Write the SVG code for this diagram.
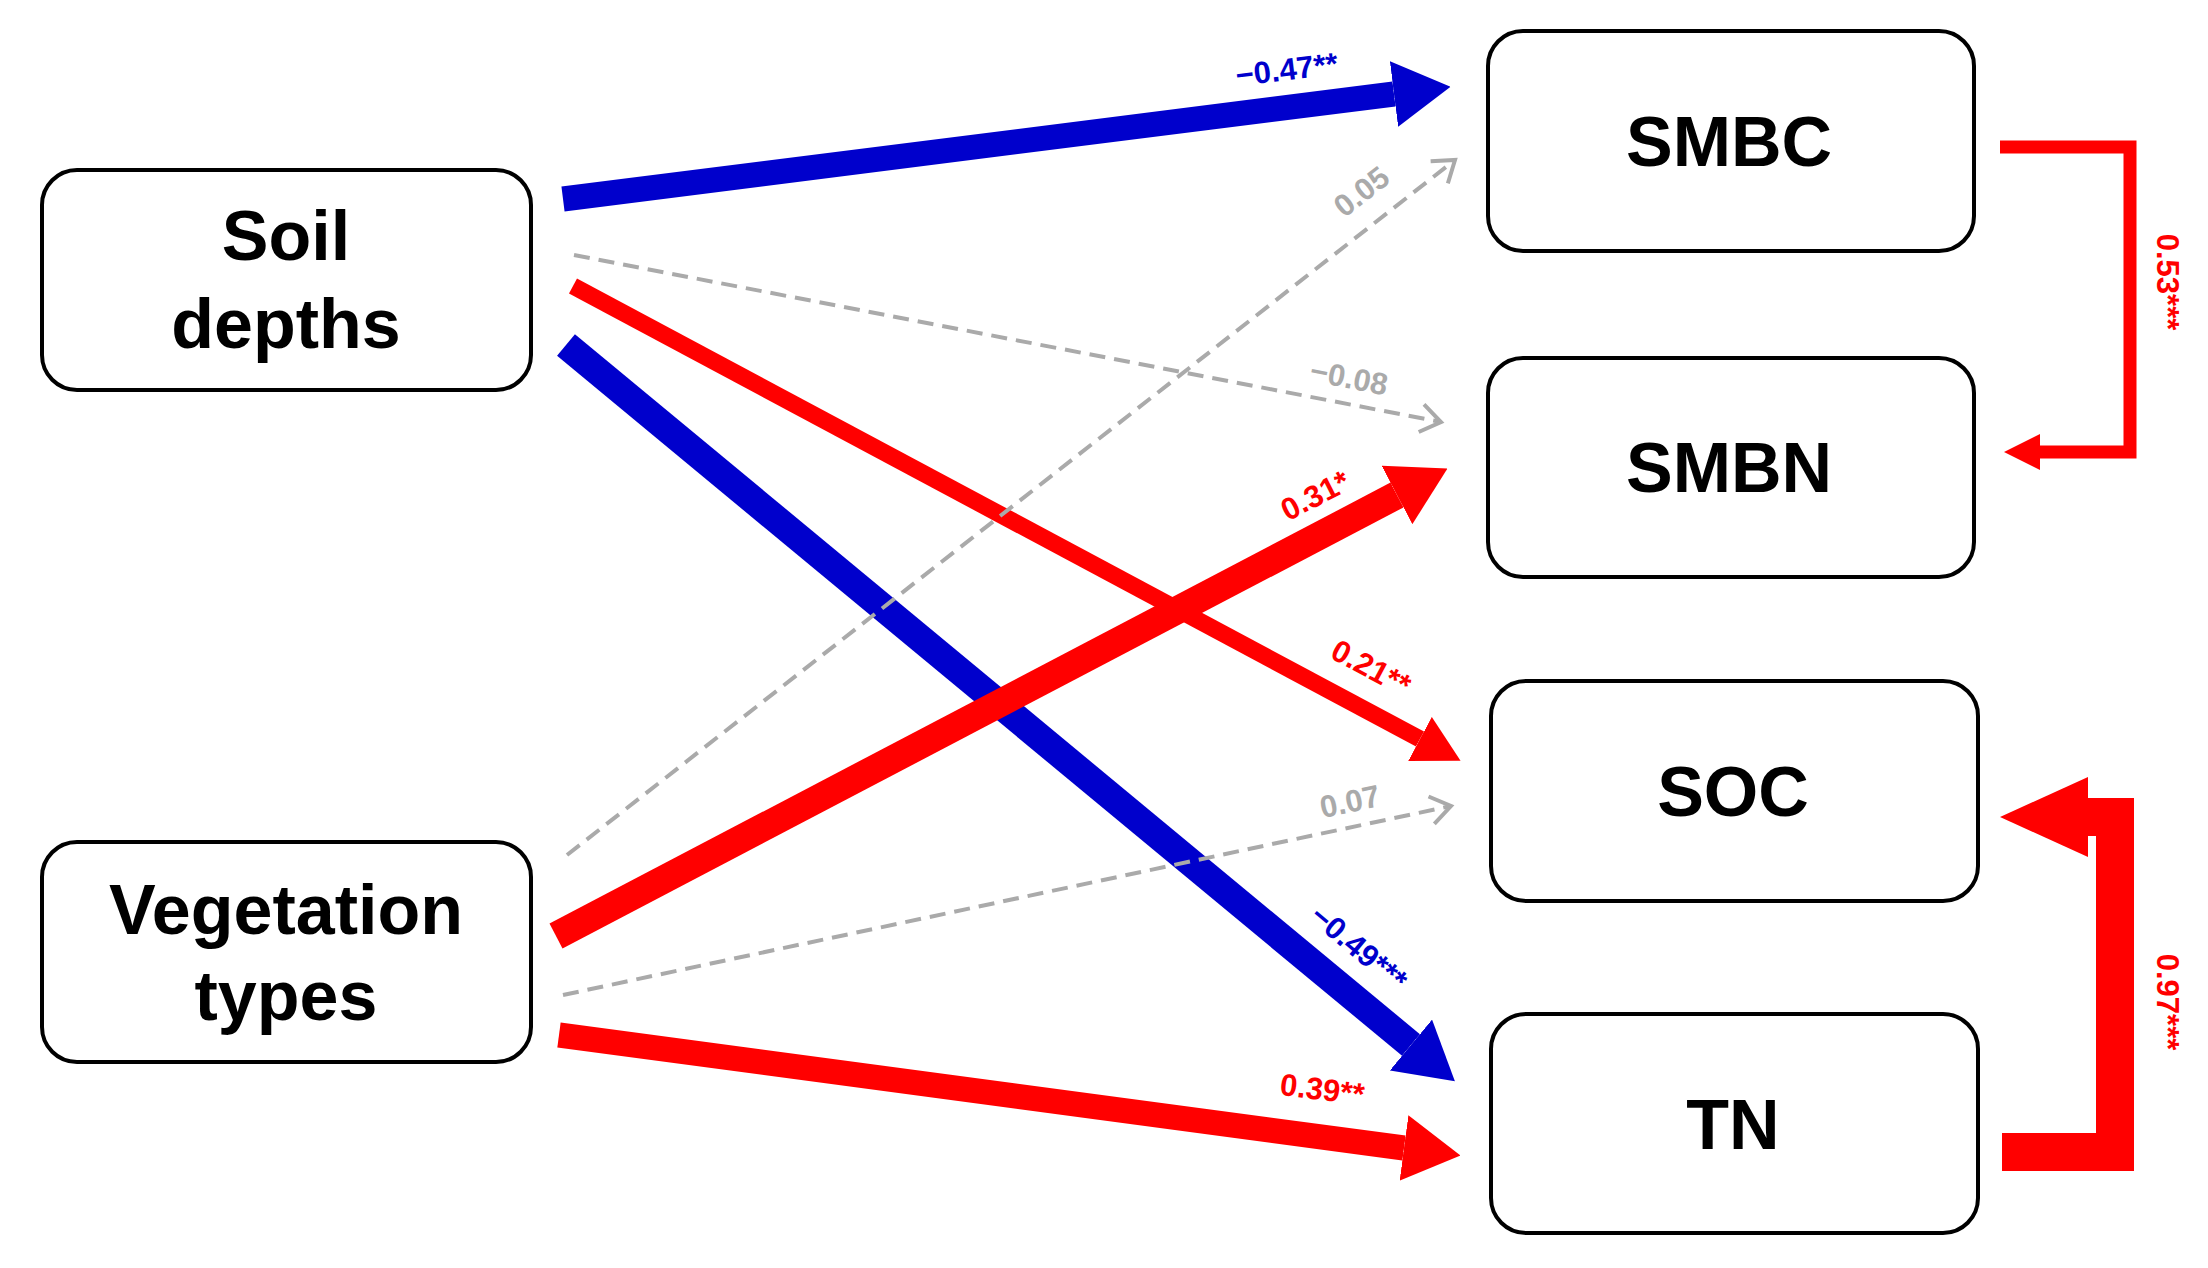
<svg xmlns="http://www.w3.org/2000/svg" width="2208" height="1268" viewBox="0 0 2208 1268">
<style>
.box{fill:#fff;stroke:#000;stroke-width:4}
.nt{font-family:"Liberation Sans",Arial,sans-serif;font-weight:bold;font-size:70px;text-anchor:middle}
.lb{font-family:"Liberation Sans",Arial,sans-serif;font-weight:bold;font-size:31px;text-anchor:middle}
.dash{stroke:#aaaaaa;stroke-width:4;stroke-dasharray:16 9;fill:none}
</style>
<defs>
<marker id="hb" markerUnits="userSpaceOnUse" markerWidth="57" markerHeight="66" refX="0" refY="33" orient="auto" viewBox="0 0 57 66"><path d="M0,0 L57,33 L0,66 z" fill="#0000cc"/></marker>
<marker id="hr" markerUnits="userSpaceOnUse" markerWidth="57" markerHeight="66" refX="0" refY="33" orient="auto" viewBox="0 0 57 66"><path d="M0,0 L57,33 L0,66 z" fill="#ff0000"/></marker>
<marker id="hrs" markerUnits="userSpaceOnUse" markerWidth="46" markerHeight="50" refX="0" refY="25" orient="auto" viewBox="0 0 46 50"><path d="M0,0 L46,25 L0,50 z" fill="#ff0000"/></marker>
<marker id="hg" markerUnits="userSpaceOnUse" markerWidth="30" markerHeight="34" refX="26" refY="17" orient="auto" viewBox="0 0 30 34"><path d="M6,3 L26,17 L6,31" fill="none" stroke="#aaaaaa" stroke-width="4"/></marker>
</defs>
<g id="connectors">
<line x1="563" y1="199" x2="1394" y2="94" stroke="#0000cc" stroke-width="25" marker-end="url(#hb)"/>
<line x1="574" y1="255" x2="1441" y2="422" class="dash" marker-end="url(#hg)"/>
<line x1="573" y1="286" x2="1420" y2="739" stroke="#ff0000" stroke-width="17" marker-end="url(#hrs)"/>
<line x1="566" y1="345" x2="1411" y2="1045" stroke="#0000cc" stroke-width="28" marker-end="url(#hb)"/>
<line x1="567" y1="855" x2="1455" y2="160" class="dash" marker-end="url(#hg)"/>
<line x1="556" y1="936" x2="1397" y2="495" stroke="#ff0000" stroke-width="28" marker-end="url(#hr)"/>
<line x1="563" y1="995" x2="1451" y2="806" class="dash" marker-end="url(#hg)"/>
<line x1="559" y1="1035" x2="1404" y2="1148" stroke="#ff0000" stroke-width="25" marker-end="url(#hr)"/>
<polyline points="2000,147 2130,147 2130,452 2040,452" fill="none" stroke="#ff0000" stroke-width="13"/>
<polygon points="2004,452 2040,434 2040,470" fill="#ff0000"/>
<polyline points="2002,1152 2115,1152 2115,817 2085,817" fill="none" stroke="#ff0000" stroke-width="38"/>
<polygon points="2000,817 2088,777 2088,857" fill="#ff0000"/>
<text class="lb" fill="#0000cc" transform="translate(1288,80) rotate(-7)">−0.47**</text>
<text class="lb" fill="#aaaaaa" transform="translate(1368,200) rotate(-38)">0.05</text>
<text class="lb" fill="#aaaaaa" transform="translate(1347,388) rotate(11)">−0.08</text>
<text class="lb" fill="#ff0000" transform="translate(1320,505) rotate(-27)">0.31*</text>
<text class="lb" fill="#ff0000" transform="translate(1366,677) rotate(28)">0.21**</text>
<text class="lb" fill="#aaaaaa" transform="translate(1352,812) rotate(-12)">0.07</text>
<text class="lb" fill="#0000cc" transform="translate(1352,956) rotate(40)">−0.49***</text>
<text class="lb" fill="#ff0000" transform="translate(1321,1100) rotate(7)">0.39**</text>
<text class="lb" fill="#ff0000" transform="translate(2157,282) rotate(90)">0.53***</text>
<text class="lb" fill="#ff0000" transform="translate(2157,1002) rotate(90)">0.97***</text>
</g>
<g id="soil"><rect class="box" x="42" y="170" width="489" height="220" rx="35"/><text class="nt" x="286" y="260">Soil</text><text class="nt" x="286" y="348">depths</text></g>
<g id="veg"><rect class="box" x="42" y="842" width="489" height="220" rx="35"/><text class="nt" x="286" y="934">Vegetation</text><text class="nt" x="286" y="1020">types</text></g>
<g id="smbc"><rect class="box" x="1488" y="31" width="486" height="220" rx="35"/><text class="nt" x="1729" y="166">SMBC</text></g>
<g id="smbn"><rect class="box" x="1488" y="358" width="486" height="219" rx="35"/><text class="nt" x="1729" y="492">SMBN</text></g>
<g id="soc"><rect class="box" x="1491" y="681" width="487" height="220" rx="35"/><text class="nt" x="1733" y="816">SOC</text></g>
<g id="tn"><rect class="box" x="1491" y="1014" width="487" height="219" rx="35"/><text class="nt" x="1733" y="1149">TN</text></g>
</svg>
